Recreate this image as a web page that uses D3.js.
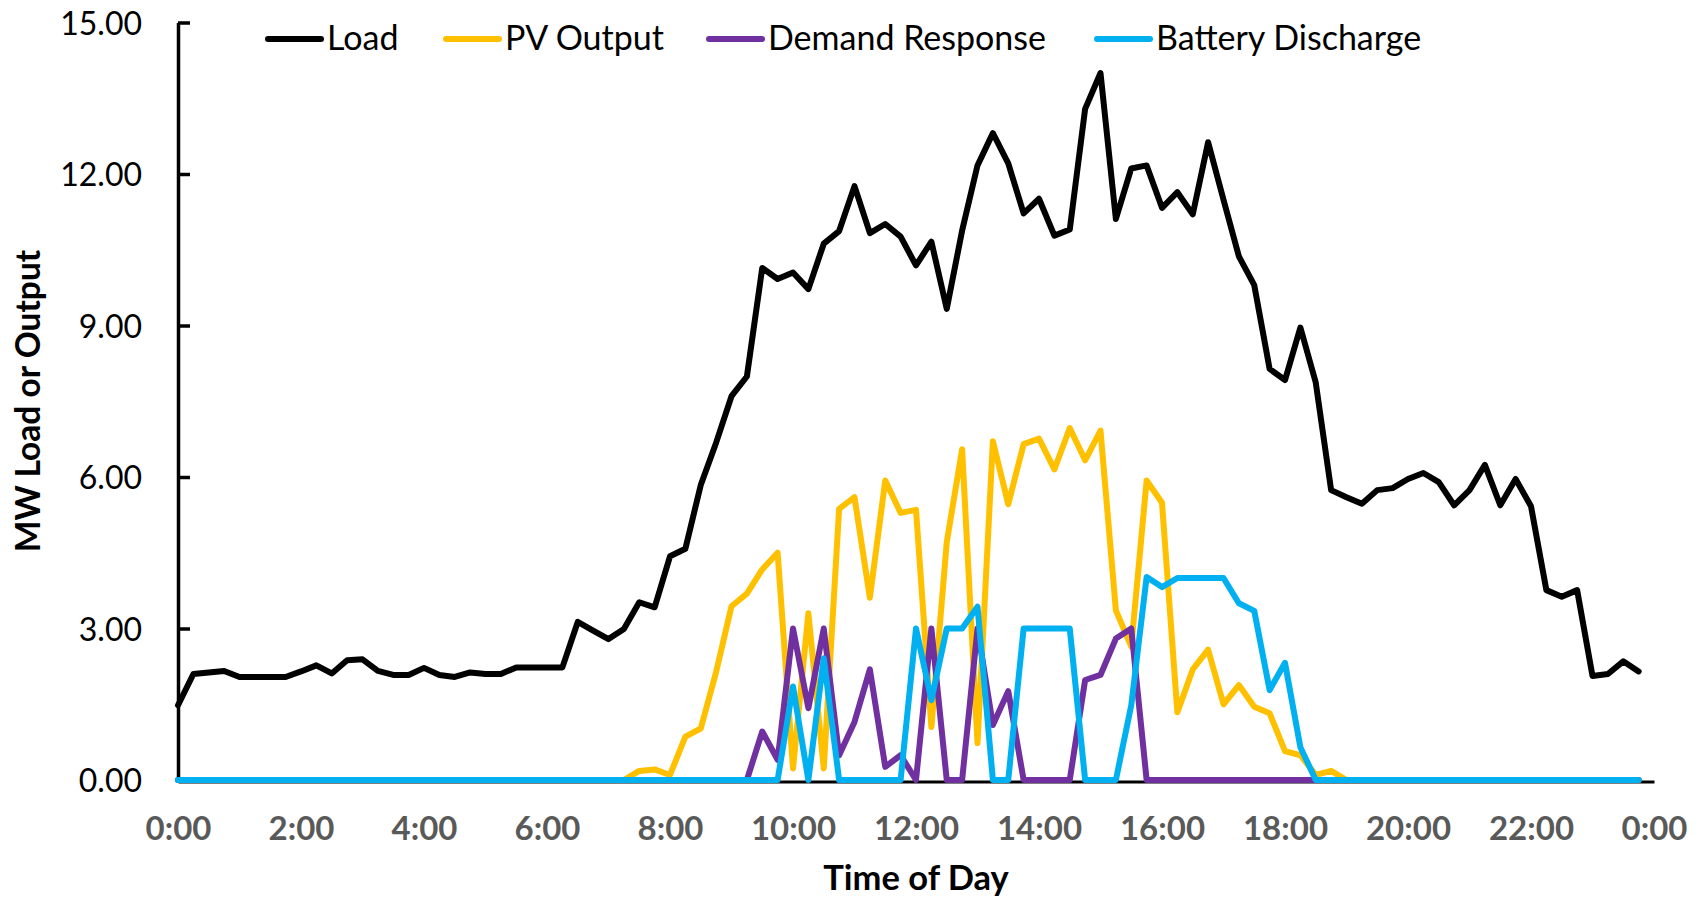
<!DOCTYPE html>
<html>
<head>
<meta charset="utf-8">
<script src="https://cdn.jsdelivr.net/npm/d3@7"></script>
<style>
  body { margin: 0; background: #fff; }
  svg text { font-family: Lato, "Open Sans", sans-serif; }
</style>
</head>
<body>
<svg id="chart" width="1700" height="902"></svg>
<script>
// 15-minute readings, 0:00 .. 23:45
const STEP_MIN = 15;

const load = [
  1.48, 2.10, 2.13, 2.16, 2.04, 2.04, 2.04, 2.04, 2.15, 2.27, 2.11, 2.37,
  2.39, 2.16, 2.08, 2.08, 2.22, 2.08, 2.04, 2.13, 2.10, 2.10, 2.23, 2.23,
  2.23, 2.23, 3.13, 2.96, 2.79, 2.99, 3.52, 3.42, 4.43, 4.58, 5.84, 6.68,
  7.60, 7.99, 10.14, 9.92, 10.05, 9.72, 10.62, 10.87, 11.76, 10.83, 11.01, 10.76,
  10.19, 10.66, 9.33, 10.88, 12.17, 12.81, 12.21, 11.22, 11.51, 10.78, 10.90, 13.29,
  14.00, 11.11, 12.11, 12.17, 11.33, 11.64, 11.20, 12.63, 11.49, 10.37, 9.80, 8.14,
  7.92, 8.96, 7.87, 5.74, 5.60, 5.47, 5.74, 5.78, 5.96, 6.08, 5.90, 5.44,
  5.74, 6.24, 5.44, 5.96, 5.42, 3.76, 3.63, 3.76, 2.06, 2.10, 2.35, 2.15
];

const pvOutput = [
  0, 0, 0, 0, 0, 0, 0, 0, 0, 0, 0, 0,
  0, 0, 0, 0, 0, 0, 0, 0, 0, 0, 0, 0,
  0, 0, 0, 0, 0, 0, 0.18, 0.21, 0.10, 0.86, 1.02, 2.14,
  3.44, 3.69, 4.17, 4.50, 0.23, 3.30, 0.23, 5.37, 5.60, 3.61, 5.93, 5.29,
  5.35, 1.05, 4.71, 6.55, 0.73, 6.71, 5.46, 6.65, 6.76, 6.15, 6.97, 6.33,
  6.92, 3.36, 2.64, 5.93, 5.49, 1.34, 2.19, 2.58, 1.50, 1.88, 1.45, 1.32,
  0.57, 0.49, 0.10, 0.18, 0, 0, 0, 0, 0, 0, 0, 0,
  0, 0, 0, 0, 0, 0, 0, 0, 0, 0, 0, 0
];

const demandResponse = [
  0, 0, 0, 0, 0, 0, 0, 0, 0, 0, 0, 0,
  0, 0, 0, 0, 0, 0, 0, 0, 0, 0, 0, 0,
  0, 0, 0, 0, 0, 0, 0, 0, 0, 0, 0, 0,
  0, 0, 0.96, 0.40, 3.00, 1.42, 3.00, 0.49, 1.15, 2.19, 0.26, 0.49,
  0, 3.00, 0, 0, 3.00, 1.09, 1.76, 0, 0, 0, 0, 1.98,
  2.08, 2.80, 3.00, 0, 0, 0, 0, 0, 0, 0, 0, 0,
  0, 0, 0, 0, 0, 0, 0, 0, 0, 0, 0, 0,
  0, 0, 0, 0, 0, 0, 0, 0, 0, 0, 0, 0
];

const batteryDischarge = [
  0, 0, 0, 0, 0, 0, 0, 0, 0, 0, 0, 0,
  0, 0, 0, 0, 0, 0, 0, 0, 0, 0, 0, 0,
  0, 0, 0, 0, 0, 0, 0, 0, 0, 0, 0, 0,
  0, 0, 0, 0, 1.85, 0, 2.41, 0, 0, 0, 0, 0,
  3.00, 1.58, 3.00, 3.00, 3.43, 0, 0, 3.00, 3.00, 3.00, 3.00, 0,
  0, 0, 1.48, 4.02, 3.82, 4.00, 4.00, 4.00, 4.00, 3.50, 3.35, 1.78,
  2.32, 0.65, 0, 0, 0, 0, 0, 0, 0, 0, 0, 0,
  0, 0, 0, 0, 0, 0, 0, 0, 0, 0, 0, 0
];

const seriesNames = ["Load", "PV Output", "Demand Response", "Battery Discharge"];
const seriesColors = ["#000000", "#FFC000", "#7030A0", "#00B0F0"];
const yTicks = [0, 3, 6, 9, 12, 15];
const xTickHours = [0, 2, 4, 6, 8, 10, 12, 14, 16, 18, 20, 22, 24];

const day0 = new Date(2020, 0, 1, 0, 0);
const timeAt = i => d3.timeMinute.offset(day0, i * STEP_MIN);

const svg = d3.select("#chart");

// scales
const x = d3.scaleTime()
  .domain([day0, d3.timeHour.offset(day0, 24)])
  .range([178, 1654]);
const y = d3.scaleLinear().domain([0, 15]).range([780, 22.5]);

// y axis
const yAxis = svg.append("g")
  .attr("transform", "translate(178,0)")
  .call(d3.axisLeft(y).tickValues(yTicks).tickFormat(d3.format(".2f"))
    .tickSizeInner(-12).tickSizeOuter(0).tickPadding(36));
yAxis.select(".domain").attr("stroke", "#000").attr("stroke-width", 3.5);
yAxis.selectAll(".tick line").attr("stroke", "#000").attr("stroke-width", 3.5);
yAxis.selectAll(".tick text")
  .attr("font-size", 32).attr("fill", "#000").attr("dy", "0.36em");

// x axis
const xAxis = svg.append("g")
  .attr("transform", "translate(0,781.5)")
  .call(d3.axisBottom(x)
    .tickValues(xTickHours.map(h => d3.timeHour.offset(day0, h)))
    .tickFormat(d3.timeFormat("%-H:%M"))
    .tickSize(0));
xAxis.select(".domain").attr("stroke", "#000").attr("stroke-width", 3);
xAxis.selectAll(".tick text")
  .attr("font-size", 33).attr("font-weight", "bold").attr("fill", "#595959")
  .attr("y", 58.5).attr("dy", 0);

// axis titles
svg.append("text")
  .attr("transform", "rotate(-90)")
  .attr("x", -401).attr("y", 40)
  .attr("text-anchor", "middle")
  .attr("font-size", 33.5).attr("font-weight", "bold")
  .text("MW Load or Output");

svg.append("text")
  .attr("x", 916).attr("y", 890)
  .attr("text-anchor", "middle")
  .attr("font-size", 34.5).attr("font-weight", "bold")
  .text("Time of Day");

// lines
const line = d3.line()
  .x((d, i) => x(timeAt(i)))
  .y(d => y(d));

const allSeries = [load, pvOutput, demandResponse, batteryDischarge];
svg.append("g").selectAll("path")
  .data(allSeries)
  .enter().append("path")
  .attr("d", line)
  .attr("fill", "none")
  .attr("stroke", (d, i) => seriesColors[i])
  .attr("stroke-width", 6)
  .attr("stroke-linejoin", "round")
  .attr("stroke-linecap", "round");

// legend
const legendX = [268, 446, 709, 1097];
const legend = svg.append("g").selectAll("g")
  .data(seriesNames)
  .enter().append("g")
  .attr("transform", (d, i) => `translate(${legendX[i]},39)`);
legend.append("line")
  .attr("x1", 0).attr("x2", 53)
  .attr("stroke", (d, i) => seriesColors[i])
  .attr("stroke-width", 6)
  .attr("stroke-linecap", "round");
legend.append("text")
  .attr("x", 59).attr("y", 11)
  .attr("font-size", 34)
  .text(d => d);
</script>
</body>
</html>
